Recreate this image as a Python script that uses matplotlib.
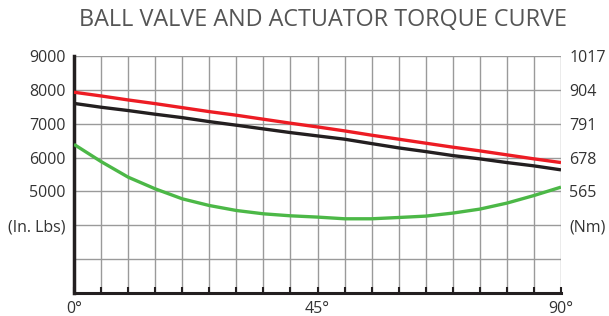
import matplotlib
matplotlib.use("Agg")
import matplotlib.pyplot as plt
import numpy as np

plt.rcParams['font.family'] = ['Open Sans', 'DejaVu Sans']

angles = [0, 5, 10, 15, 20, 25, 30, 35, 40, 45, 50, 55, 60, 65, 70, 75, 80, 85, 90]
red = [7930, 7820, 7702, 7593, 7475, 7357, 7251, 7133, 7015, 6905, 6788, 6661, 6543, 6425, 6307, 6198, 6080, 5962, 5853]
black = [7600, 7487, 7389, 7280, 7180, 7062, 6956, 6847, 6738, 6640, 6543, 6413, 6286, 6177, 6059, 5962, 5853, 5755, 5637]
green = [6390, 5882, 5422, 5077, 4782, 4584, 4437, 4339, 4280, 4242, 4192, 4192, 4230, 4271, 4360, 4478, 4655, 4879, 5127]

left_ticks = [9000, 8000, 7000, 6000, 5000, 4000]
left_labels = ["9000", "8000", "7000", "6000", "5000", "(In. Lbs)"]
right_labels = ["1017", "904", "791", "678", "565", "(Nm)"]
x_labels = ["0°", "45°", "90°"]
x_label_pos = [0, 45, 90]

fig = plt.figure(figsize=(6.09, 3.16), dpi=100)
ax = fig.add_axes([74/609, 1-293/316, (561-74)/609, (293-56)/316])

ax.plot(angles, green, color='#4cb847', lw=2.4, solid_capstyle='butt', zorder=3)
ax.plot(angles, black, color='#231f20', lw=2.4, solid_capstyle='butt', zorder=3)
ax.plot(angles, red, color='#ed1c24', lw=2.4, solid_capstyle='butt', zorder=3)

ax.set_xlim(0, 90)
ax.set_ylim(2000, 9000)

for v in range(0, 91, 5):
    if v > 0:
        ax.axvline(v, color='#9a9a9a', lw=1.0, zorder=1)
for v in range(3000, 9001, 1000):
    ax.axhline(v, color='#9a9a9a', lw=1.0, zorder=1)

for s in ['top', 'right']:
    ax.spines[s].set_visible(False)
ax.spines['left'].set_linewidth(2.5)
ax.spines['left'].set_color('#231f20')
ax.spines['bottom'].set_linewidth(2.2)
ax.spines['bottom'].set_color('#231f20')

ax.set_xticks(range(0, 91, 5))
ax.set_xticklabels(["" for _ in range(0, 91, 5)])
ax.tick_params(axis='x', direction='in', length=4, width=1.5, color='#231f20')
ax.set_yticks(left_ticks)
ax.set_yticklabels(left_labels)
ax.tick_params(axis='y', length=0, labelsize=11.5, labelcolor='#333333', pad=6)

for p, l in zip(x_label_pos, x_labels):
    ax.text(p, 2000 - 250, l, ha='center', va='top', fontsize=11.5, color='#333333')

ax2 = ax.twinx()
ax2.set_ylim(ax.get_ylim())
ax2.set_yticks(left_ticks)
ax2.set_yticklabels(right_labels)
ax2.tick_params(axis='y', length=0, labelsize=11.5, labelcolor='#333333', pad=6)
for s in ax2.spines.values():
    s.set_visible(False)

fig.text(323/609, 1-20/316, "BALL VALVE AND ACTUATOR TORQUE CURVE", ha='center', va='center',
         fontsize=16.8, color='#555555')

fig.savefig("out.png", dpi=100)
